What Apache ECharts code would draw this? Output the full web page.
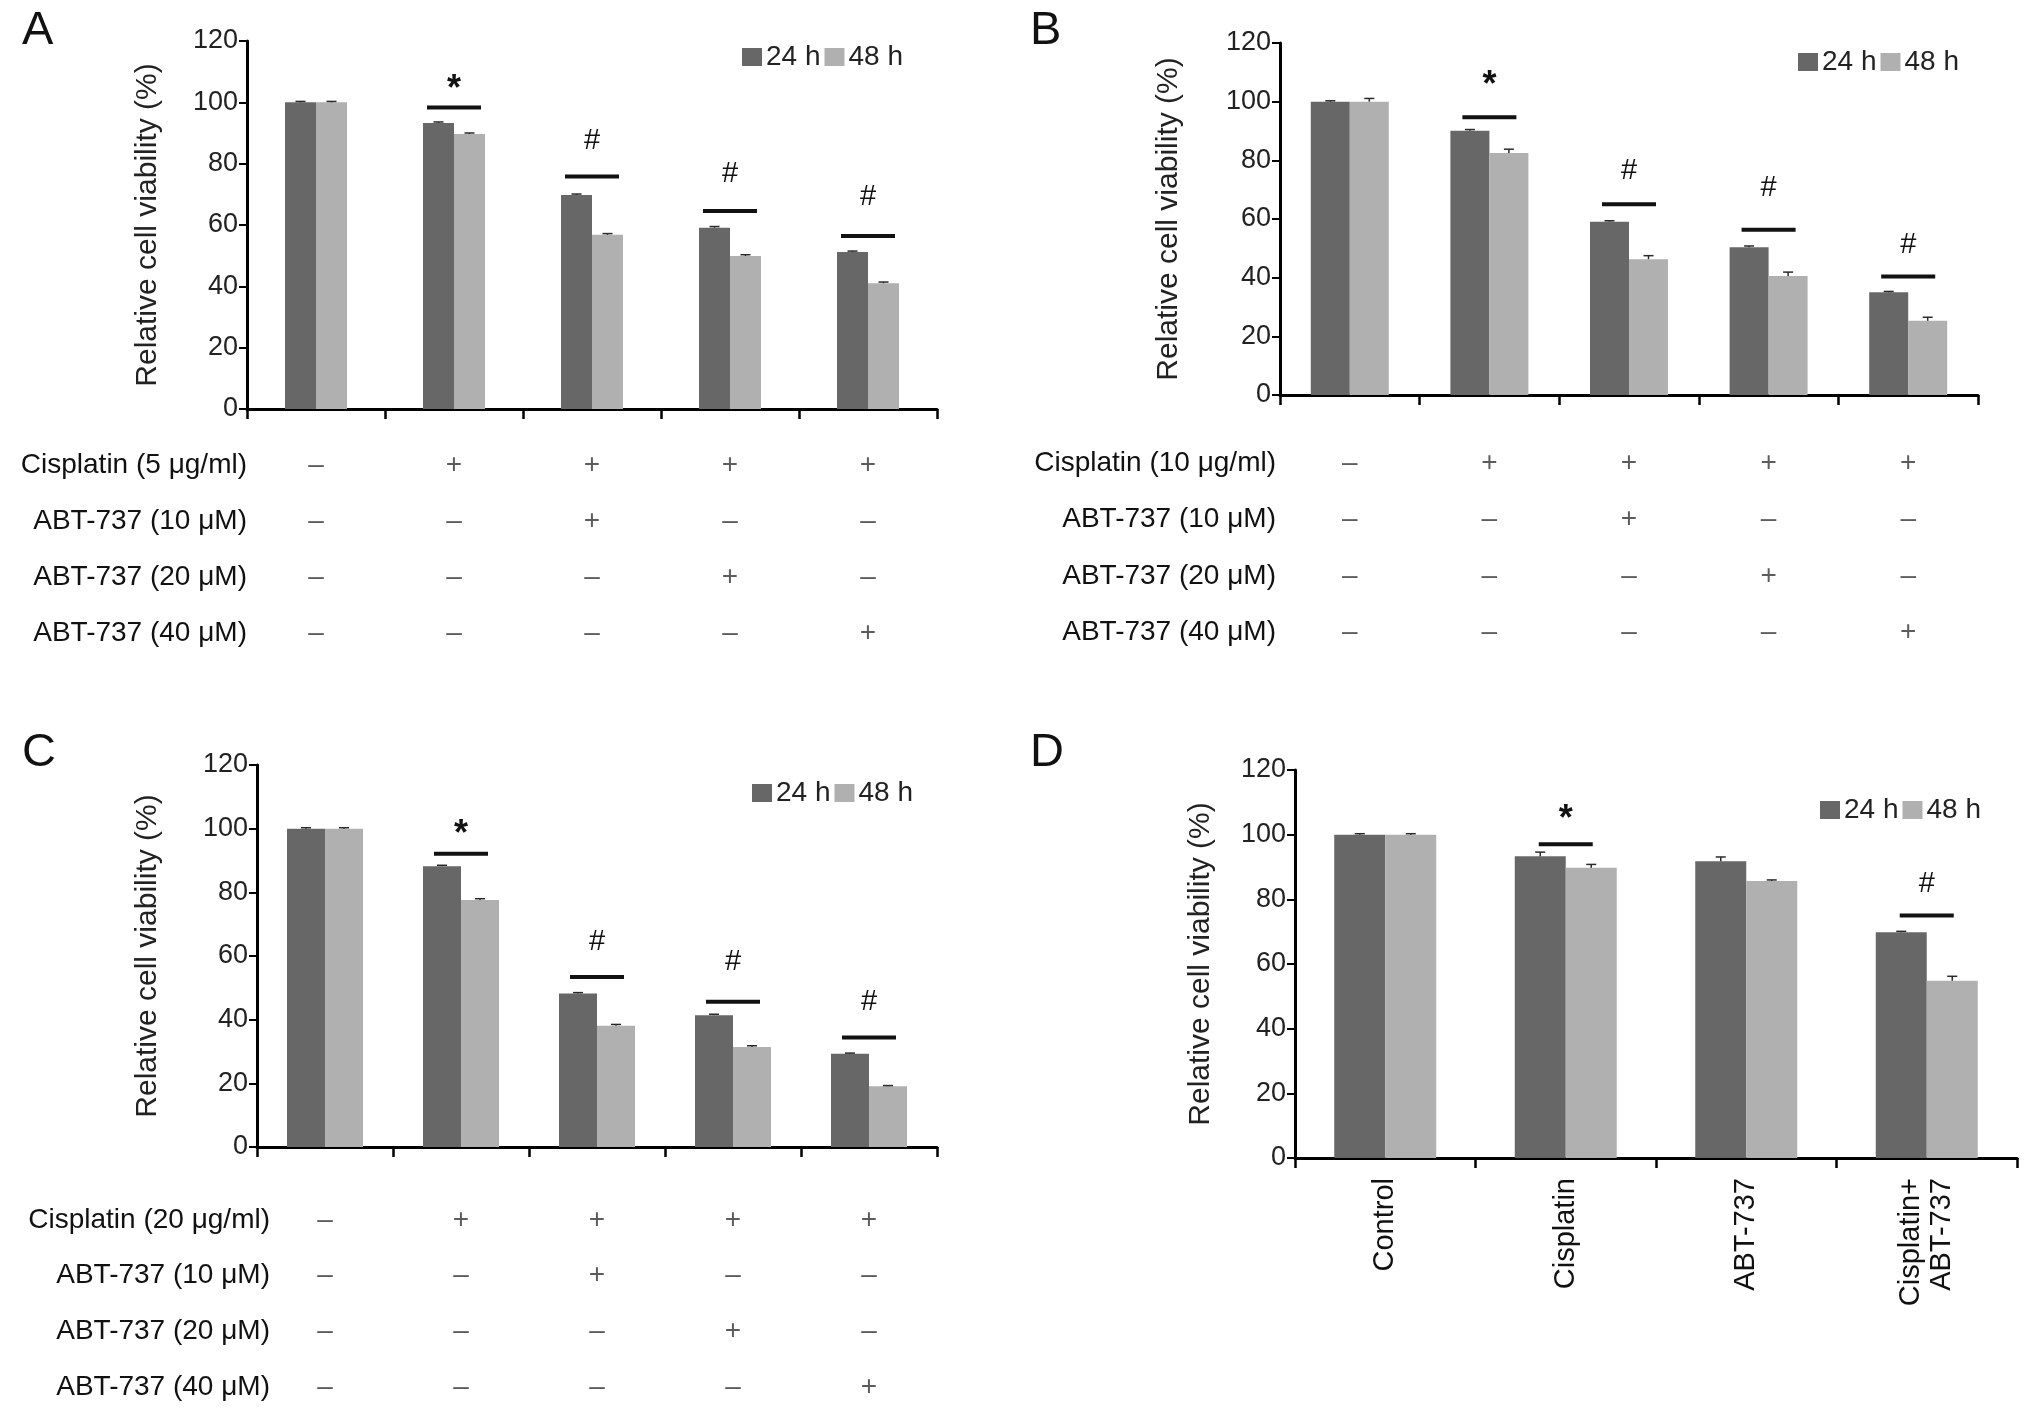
<!DOCTYPE html>
<html>
<head>
<meta charset="utf-8">
<script src="https://cdn.jsdelivr.net/npm/echarts@6.0.0/dist/echarts.min.js"></script>
<style>
html, body { margin: 0; padding: 0; background: #fff; }
#chart { width: 2032px; height: 1415px; }
</style>
</head>
<body>
<div id="chart"></div>
<script>
var chart = echarts.init(document.getElementById('chart'));
var FONT = "'Liberation Sans', Arial, Helvetica, sans-serif";
var DARK = '#676767';
var LIGHT = '#b0b0b0';

// ---- data ----
var groups5 = ['g1', 'g2', 'g3', 'g4', 'g5'];
var groupsD = ['Control', 'Cisplatin', 'ABT-737', 'Cisplatin+\nABT-737'];
var seriesNames = ['24 h', '48 h'];

var a24 = [100, 93.3, 69.8, 59.1, 51.2];
var a48 = [100, 89.7, 56.8, 49.9, 41.0];
var a24Err = [0.3, 0.3, 0.3, 0.4, 0.3];
var a48Err = [0.3, 0.3, 0.4, 0.4, 0.4];
var aSigGroup = [1, 2, 3, 4];
var aSigLine = [98.3, 75.8, 64.6, 56.4];
var aSigMark = [106.7, 87.3, 76.5, 69.0];
var aSigText = ['*', '#', '#', '#'];

var b24 = [100, 90.1, 59.1, 50.4, 35.0];
var b48 = [100, 82.5, 46.3, 40.6, 25.3];
var b24Err = [0.3, 0.4, 0.3, 0.4, 0.3];
var b48Err = [1.1, 1.3, 1.2, 1.3, 1.2];
var bSigGroup = [1, 2, 3, 4];
var bSigLine = [94.7, 65.0, 56.3, 40.4];
var bSigMark = [108.0, 76.2, 70.5, 51.2];
var bSigText = ['*', '#', '#', '#'];

var c24 = [100, 88.2, 48.2, 41.4, 29.3];
var c48 = [100, 77.6, 38.1, 31.4, 19.1];
var c24Err = [0.3, 0.3, 0.3, 0.3, 0.2];
var c48Err = [0.3, 0.4, 0.4, 0.4, 0.2];
var cSigGroup = [1, 2, 3, 4];
var cSigLine = [92.1, 53.4, 45.6, 34.4];
var cSigMark = [100.6, 64.5, 58.2, 45.6];
var cSigText = ['*', '#', '#', '#'];

var d24 = [100, 93.3, 91.8, 69.8];
var d48 = [100, 89.8, 85.7, 54.8];
var d24Err = [0.3, 1.3, 1.3, 0.3];
var d48Err = [0.3, 1.0, 0.3, 1.4];
var dSigGroup = [1, 3];
var dSigLine = [97.0, 75.0];
var dSigMark = [107.0, 84.6];
var dSigText = ['*', '#'];

var rowsA = ['Cisplatin (5 \u03bcg/ml)', 'ABT-737 (10 \u03bcM)', 'ABT-737 (20 \u03bcM)', 'ABT-737 (40 \u03bcM)'];
var rowsB = ['Cisplatin (10 \u03bcg/ml)', 'ABT-737 (10 \u03bcM)', 'ABT-737 (20 \u03bcM)', 'ABT-737 (40 \u03bcM)'];
var rowsC = ['Cisplatin (20 \u03bcg/ml)', 'ABT-737 (10 \u03bcM)', 'ABT-737 (20 \u03bcM)', 'ABT-737 (40 \u03bcM)'];
var treatFlags = [
    [0, 1, 1, 1, 1],
    [0, 0, 1, 0, 0],
    [0, 0, 0, 1, 0],
    [0, 0, 0, 0, 1]
];

var yMin = 0, yMax = 120, yStep = 20;
var yName = 'Relative cell viability (%)';

// ---- layout ----
var panels = [
    { letter: 'A', letterPos: [22, 8], grid: { left: 247, top: 41, width: 690, height: 368 }, barW: 31, nameGap: 84,
      legend: [742, 43], cats: groups5, v24: a24, v48: a48, e24: a24Err, e48: a48Err,
      sig: [aSigGroup, aSigLine, aSigMark, aSigText],
      table: { rows: rowsA, grid: { left: 247, top: 437, width: 690, height: 224 }, margin: 0 } },
    { letter: 'B', letterPos: [1030, 8], grid: { left: 1280, top: 43, width: 698, height: 352 }, barW: 39, nameGap: 96,
      legend: [1798, 48], cats: groups5, v24: b24, v48: b48, e24: b24Err, e48: b48Err,
      sig: [bSigGroup, bSigLine, bSigMark, bSigText],
      table: { rows: rowsB, grid: { left: 1280, top: 435, width: 698, height: 226 }, margin: 4 } },
    { letter: 'C', letterPos: [22, 730], grid: { left: 257, top: 765, width: 680, height: 382 }, barW: 38, nameGap: 94,
      legend: [752, 779], cats: groups5, v24: c24, v48: c48, e24: c24Err, e48: c48Err,
      sig: [cSigGroup, cSigLine, cSigMark, cSigText],
      table: { rows: rowsC, grid: { left: 257, top: 1192, width: 680, height: 223 }, margin: -13 } },
    { letter: 'D', letterPos: [1030, 730], grid: { left: 1295, top: 770, width: 722, height: 388 }, barW: 51, nameGap: 79,
      legend: [1820, 796], cats: groupsD, v24: d24, v48: d48, e24: d24Err, e48: d48Err,
      sig: [dSigGroup, dSigLine, dSigMark, dSigText],
      table: null }
];

function errorRender(barW, side) {
    return function (params, api) {
        var x = api.value(0), v = api.value(1), e = api.value(2);
        var base = api.coord([x, v]);
        var top = api.coord([x, v + e]);
        var cx = base[0] + side * barW / 2;
        var st = { stroke: '#2a2a2a', lineWidth: 1.5 };
        return {
            type: 'group',
            children: [
                { type: 'line', shape: { x1: cx, y1: base[1], x2: cx, y2: top[1] }, style: st },
                { type: 'line', shape: { x1: cx - 5, y1: top[1], x2: cx + 5, y2: top[1] }, style: st }
            ]
        };
    };
}

function sigRender(texts, halfW) {
    return function (params, api) {
        var x = api.value(0);
        var l = api.coord([x, api.value(1)]);
        var m = api.coord([x, api.value(2)]);
        var t = texts[params.dataIndex];
        var star = t === '*';
        return {
            type: 'group',
            children: [
                { type: 'line', shape: { x1: l[0] - halfW, y1: l[1], x2: l[0] + halfW, y2: l[1] },
                  style: { stroke: '#111', lineWidth: 4 } },
                { type: 'text', x: m[0], y: m[1] + (star ? 8 : 0),
                  style: { text: t, fill: '#111', fontFamily: FONT, fontSize: star ? 36 : 29,
                           fontWeight: star ? 'bold' : 'normal', align: 'center', verticalAlign: 'middle' } }
            ]
        };
    };
}

var option = {
    backgroundColor: '#fff',
    animation: false,
    textStyle: { fontFamily: FONT },
    title: [], legend: [], grid: [], xAxis: [], yAxis: [], series: []
};

panels.forEach(function (p) {
    var gi = option.grid.length;
    option.title.push({
        text: p.letter, left: p.letterPos[0], top: p.letterPos[1], padding: 0,
        textStyle: { fontFamily: FONT, fontSize: 47, fontWeight: 'normal', color: '#111' }
    });
    option.legend.push({
        data: seriesNames, left: p.legend[0], top: p.legend[1], padding: 0,
        icon: 'rect', itemWidth: 20, itemHeight: 18, itemGap: 4,
        textStyle: { fontFamily: FONT, fontSize: 28, color: '#222', padding: [0, 0, 0, -1] }
    });
    var g = p.grid;
    option.grid.push({ left: g.left, top: g.top, width: g.width, height: g.height, containLabel: false, outerBoundsMode: 'none' });
    var isD = p.letter === 'D';
    option.xAxis.push({
        type: 'category', gridIndex: gi, data: p.cats,
        axisLine: { show: true, lineStyle: { color: '#000', width: 3 } },
        axisTick: { show: true, length: 10, lineStyle: { color: '#000', width: 2.5 } },
        axisLabel: isD ? { show: true, rotate: 90, margin: 20, fontFamily: FONT, fontSize: 29,
                           color: '#111', lineHeight: 31 } : { show: false },
        splitLine: { show: false }
    });
    option.yAxis.push({
        type: 'value', gridIndex: gi, min: yMin, max: yMax, interval: yStep,
        name: yName, nameLocation: 'middle', nameGap: p.nameGap,
        nameTextStyle: { fontFamily: FONT, fontSize: 30, color: '#222' },
        axisLine: { show: true, lineStyle: { color: '#000', width: 3 } },
        axisTick: { show: true, length: 8, lineStyle: { color: '#000', width: 2 } },
        axisLabel: { show: true, margin: 9, fontFamily: FONT, fontSize: 27, color: '#222' },
        splitLine: { show: false }
    });
    option.series.push(
        { name: '24 h', type: 'bar', xAxisIndex: gi, yAxisIndex: gi, data: p.v24, barWidth: p.barW, barGap: '0%',
          itemStyle: { color: DARK }, z: 2 },
        { name: '48 h', type: 'bar', xAxisIndex: gi, yAxisIndex: gi, data: p.v48, barWidth: p.barW, barGap: '0%',
          itemStyle: { color: LIGHT }, z: 2 },
        { type: 'custom', xAxisIndex: gi, yAxisIndex: gi, renderItem: errorRender(p.barW, -1), z: 3,
          encode: { x: 0, y: 1 }, silent: true,
          data: p.v24.map(function (v, i) { return [i, v, p.e24[i]]; }) },
        { type: 'custom', xAxisIndex: gi, yAxisIndex: gi, renderItem: errorRender(p.barW, 1), z: 3,
          encode: { x: 0, y: 1 }, silent: true,
          data: p.v48.map(function (v, i) { return [i, v, p.e48[i]]; }) },
        { type: 'custom', xAxisIndex: gi, yAxisIndex: gi, renderItem: sigRender(p.sig[3], 27), z: 4,
          encode: { x: 0, y: 1 }, silent: true,
          data: p.sig[0].map(function (c, i) { return [c, p.sig[1][i], p.sig[2][i]]; }) }
    );

    if (p.table) {
        var ti = option.grid.length;
        var tg = p.table.grid;
        option.grid.push({ left: tg.left, top: tg.top, width: tg.width, height: tg.height, containLabel: false, outerBoundsMode: 'none' });
        option.xAxis.push({
            type: 'category', gridIndex: ti, data: p.cats,
            axisLine: { show: false }, axisTick: { show: false }, axisLabel: { show: false }, splitLine: { show: false }
        });
        option.yAxis.push({
            type: 'category', gridIndex: ti, data: p.table.rows, inverse: true,
            axisLine: { show: false }, axisTick: { show: false }, splitLine: { show: false },
            axisLabel: { show: true, margin: p.table.margin, fontFamily: FONT, fontSize: 28, color: '#111' }
        });
        var cells = [];
        treatFlags.forEach(function (row, r) {
            row.forEach(function (f, c) { cells.push([c, r]); });
        });
        option.series.push({
            type: 'scatter', xAxisIndex: ti, yAxisIndex: ti, data: cells, symbolSize: 1, silent: true,
            itemStyle: { color: 'rgba(0,0,0,0)' },
            label: {
                show: true, position: 'inside', fontFamily: FONT, fontSize: 28, color: '#333',
                formatter: function (prm) {
                    return treatFlags[prm.value[1]][prm.value[0]] ? '+' : '\u2013';
                }
            }
        });
    }
});

chart.setOption(option);
</script>
</body>
</html>
